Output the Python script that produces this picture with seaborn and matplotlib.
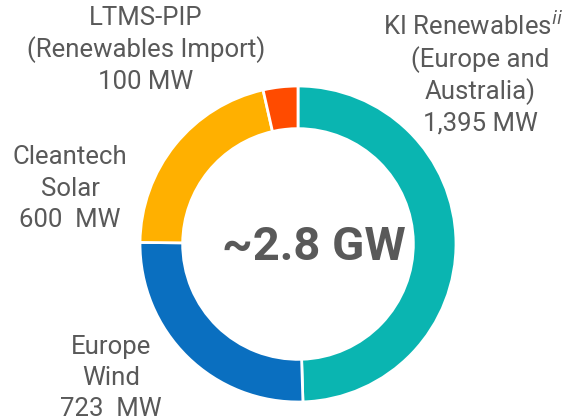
import matplotlib
matplotlib.use("Agg")
import matplotlib.pyplot as plt
import seaborn as sns

sns.set_theme(style="white")
plt.rcParams['font.family'] = ['Roboto', 'DejaVu Sans']

# Data
segments = ["KI Renewables", "Europe Wind", "Cleantech Solar", "LTMS-PIP"]
capacity_mw = [1395, 723, 600, 100]
colors = ["#0AB5B1", "#0A6FC0", "#FFB000", "#FF4B00"]
center_label = "~2.8 GW"

W, H = 570, 420
fig = plt.figure(figsize=(W / 100, H / 100), dpi=100)
ax = fig.add_axes([0, 0, 1, 1])

cx, cy, R = 298, H - 244, 158
ax.pie(capacity_mw, colors=colors, startangle=90, counterclock=False,
       center=(cx, cy), radius=R,
       wedgeprops=dict(width=R * 0.27, edgecolor="white", linewidth=2),
       frame=True)
ax.set_xlim(0, W)
ax.set_ylim(0, H)
ax.set_aspect("equal")
ax.axis("off")

tc = "#595959"
fs = 18.5

def lines(x, ys, texts):
    for y, t in zip(ys, texts):
        ax.text(x, H - y, t, ha="center", va="center", fontsize=fs, color=tc)

lines(146, [18, 50, 82], ["LTMS-PIP", "(Renewables Import)", "100 MW"])
lines(480, [60, 92, 123], ["(Europe and", "Australia)", "1,395 MW"])
ax.text(473, H - 26, "KI Renewables$^{\\mathit{ii}}$", ha="center", va="center",
        fontsize=fs, color=tc)
lines(70, [157, 189, 220], ["Cleantech", "Solar", "600  MW"])
lines(111, [347, 378, 409], ["Europe", "Wind", "723  MW"])

ax.text(314, H - 247, center_label, ha="center", va="center", fontsize=34,
        fontweight="bold", color=tc)

fig.savefig("out.png", dpi=100)
